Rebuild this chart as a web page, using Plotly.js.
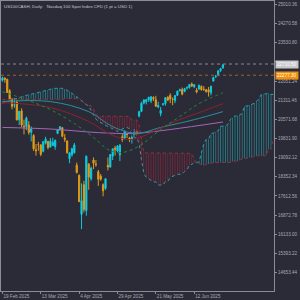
<!DOCTYPE html>
<html><head><meta charset="utf-8">
<script src="https://cdn.plot.ly/plotly-3.0.1.min.js"></script>
<style>html,body{margin:0;padding:0;background:#2b2b37;}#chart{width:300px;height:300px;}</style>
</head><body><div id="chart"></div>
<script>
const dates = ["2025-02-19","2025-02-20","2025-02-21","2025-02-24","2025-02-25","2025-02-26","2025-02-27","2025-02-28","2025-03-03","2025-03-04","2025-03-05","2025-03-06","2025-03-07","2025-03-10","2025-03-11","2025-03-12","2025-03-13","2025-03-14","2025-03-17","2025-03-18","2025-03-19","2025-03-20","2025-03-21","2025-03-24","2025-03-25","2025-03-26","2025-03-27","2025-03-28","2025-03-31","2025-04-01","2025-04-02","2025-04-03","2025-04-04","2025-04-07","2025-04-08","2025-04-09","2025-04-10","2025-04-11","2025-04-14","2025-04-15","2025-04-16","2025-04-17","2025-04-21","2025-04-22","2025-04-23","2025-04-24","2025-04-25","2025-04-28","2025-04-29","2025-04-30","2025-05-01","2025-05-02","2025-05-05","2025-05-06","2025-05-07","2025-05-08","2025-05-09","2025-05-12","2025-05-13","2025-05-14","2025-05-15","2025-05-16","2025-05-19","2025-05-20","2025-05-21","2025-05-22","2025-05-23","2025-05-26","2025-05-27","2025-05-28","2025-05-29","2025-05-30","2025-06-02","2025-06-03","2025-06-04","2025-06-05","2025-06-06","2025-06-09","2025-06-10","2025-06-11","2025-06-12","2025-06-13","2025-06-16","2025-06-17","2025-06-18","2025-06-19","2025-06-20","2025-06-23","2025-06-24","2025-06-25","2025-06-26","2025-06-27","2025-06-30"];
const open = [22080,22170,22120,21680,21330,21120,21240,20560,20900,20300,20300,20350,20070,19950,19400,19600,19580,19340,19650,19720,19500,19560,19520,20030,20180,20250,19850,19740,19050,19200,19280,18800,18400,16900,18050,17050,18850,18280,19000,18850,18550,18380,18050,17900,18800,18730,19150,19460,19350,19200,19900,19850,20000,19850,19820,19970,20100,20700,20880,21200,21250,21330,21280,21420,21330,21050,20800,21150,21180,21420,21500,21350,21300,21500,21670,21730,21650,21790,21800,21940,21830,21700,21740,21840,21730,21710,21720,21600,22050,22230,22280,22460,22560];
const high = [22222,22190,22140,21740,21400,21400,21320,20900,21000,20560,20680,20500,20300,20000,19620,19700,19620,19740,19900,19740,19850,19860,19800,20200,20300,20280,20000,19760,19300,19480,19660,18900,18450,18100,18200,19180,18880,18750,19100,19000,18620,18460,18100,18300,19100,19230,19450,19550,19570,19620,20000,20150,20050,19900,19950,20200,20150,20900,21250,21350,21360,21440,21460,21460,21480,21250,21050,21200,21430,21480,21580,21420,21510,21680,21760,21800,21790,21850,21940,22000,21930,21780,21920,21890,21860,21750,21820,21870,22220,22290,22470,22560,22700];
const low = [22030,21990,21590,21340,20960,21020,20530,20350,20270,19990,20160,19980,19720,19350,19170,19360,19150,19300,19600,19410,19480,19540,19400,20000,20130,19880,19700,19250,18880,19130,19250,18480,17370,16330,16980,16850,17850,18200,18650,18740,18000,18200,17600,17850,18600,18700,19000,19180,19300,18960,19700,19800,19850,19700,19640,19900,19950,20650,20850,21150,21150,21250,21200,21280,21050,21000,20690,21100,21100,21280,21200,21120,21200,21470,21660,21500,21620,21720,21760,21820,21780,21580,21720,21680,21680,21600,21450,21500,22030,22170,22240,22400,22530];
const close = [22175,22117,21614,21352,21075,21132,20551,20884,20352,20288,20628,20071,20201,19431,19361,19592,19225,19704,19805,19483,19737,19677,19754,20180,20288,19917,19799,19282,19278,19436,19582,18521,17398,17430,17090,19145,18343,18690,18877,18825,18257,18258,17808,18277,18731,19213,19433,19420,19546,19571,19794,20103,19986,19792,19867,20064,20062,20868,21197,21319,21336,21427,21447,21367,21080,21112,20916,21170,21414,21318,21363,21340,21492,21663,21713,21547,21762,21797,21920,21862,21913,21631,21885,21720,21719,21650,21626,21853,22190,22237,22447,22534,22679];

// Ichimoku cloud spans (index 0..113, projected 26 bars ahead)
const spanA = [21200,21230,21260,21300,21330,21360,21400,21420,21450,21480,21500,21520,21540,21560,21580,21600,21630,21660,21690,21720,21740,21760,21770,21780,21780,21770,21740,21700,21640,21580,21530,21450,21370,21286,21200,21150,21085,20900,20750,20580,20500,20440,20380,20330,20290,20256,20200,20150,20105,20150,20200,20243,20260,20210,19950,19865,19865,19645,19010,18485,18335,18275,18205,18155,18155,18035,18035,18035,18165,18165,18333,18365,18420,18445,18450,18463,18553,18620,18808,18833,18898,18923,18923,19273,19618,19798,19803,20030,20040,20105,20128,20303,20313,20313,20375,20563,20638,20703,20703,20753,20793,21085,21085,21115,21160,21190,21275,21355,21538,21548,21568,21568,21535,21535];
const spanB = [21335,21335,21335,21335,21335,21335,21335,21335,21335,21335,21335,21335,21335,21335,21335,21335,21335,21335,21335,21335,21335,21335,21335,21335,21335,21335,21380,21380,21380,21380,21380,21376,21376,21286,21246,21106,21106,21101,20971,20786,20696,20696,20686,20686,20686,20686,20686,20686,20686,20686,20686,20686,20686,20686,20551,20551,20551,20351,19796,19276,19276,19276,19276,19276,19276,19276,19276,19276,19276,19276,19276,19276,19276,19276,19276,19276,19276,19276,19260,19235,19035,18865,18865,18825,18790,18840,18845,18885,18895,18895,18905,18905,18905,18905,18905,18905,18955,18955,18955,19005,19045,19065,19065,19090,19135,19165,19165,19165,19165,19165,19165,19425,19425,19800];

// moving averages (bar index, value)
const maGreenX = [0,10,20,30,38,44,48,52,58,66,74,82,92];
const maGreen  = [21640,21330,20950,20410,19870,19410,19290,19330,19600,20180,20680,21180,21600];
const maRedX = [0,20,36,46,54,62,72,82,92];
const maRed  = [21220,21030,20490,19950,19790,20060,20490,20830,21180];
const maTealX = [0,20,36,46,56,66,80,92];
const maTeal  = [21260,21260,20870,20290,20030,20260,20560,20870];
const maPurpleX = [0,20,40,55,70,92];
const maPurple  = [20260,20200,20060,20030,20180,20470];

const levels = [22710.50, 22277.30];
const levelLabels = ["22710.50", "22277.30"];

const priceTicks = [25010.36,24270.58,23530.80,22791.02,22051.24,21311.46,20571.68,19831.90,19092.12,18352.34,17612.56,16872.78,16133.00,15393.22,14653.44];
const hiddenTick = 22791.02; // covered by the price label in the original
const dateTickIdx = [0,16,32,48,64,80];
const dateTickText = ["19 Feb 2025","13 Mar 2025","4 Apr 2025","29 Apr 2025","21 May 2025","12 Jun 2025"];

const idx = dates.map((d,k)=>k);
const cloudX = spanA.map((v,k)=>k);
const traces = [];

let start = 0;
const up = k => spanA[k] >= spanB[k];
for (let k = 1; k <= spanA.length; k++) {
  if (k === spanA.length || up(k) !== up(start)) {
    const e = Math.min(k, spanA.length-1);
    const xs = cloudX.slice(start, e+1);
    const bull = up(start);
    const lower = (bull ? spanB : spanA).slice(start, e+1);
    const upper = (bull ? spanA : spanB).slice(start, e+1);
    const col = bull ? 'rgba(35,150,165,0.85)' : 'rgba(140,35,55,0.9)';
    traces.push({type:'scatter', mode:'lines', x:xs, y:lower, line:{width:0}, hoverinfo:'skip', showlegend:false});
    traces.push({type:'scatter', mode:'lines', x:xs, y:upper, line:{width:0}, fill:'tonexty', fillcolor:'rgba(0,0,0,0)',
      fillpattern:{shape:'|', fgcolor:col, bgcolor:'rgba(0,0,0,0)', size:2.4, solidity:0.3}, hoverinfo:'skip', showlegend:false});
    start = k;
  }
}
traces.push({type:'scatter', mode:'lines', x:cloudX, y:spanA, line:{color:'#2aa0aa', width:1, dash:'dot'}, hoverinfo:'skip', showlegend:false});
traces.push({type:'scatter', mode:'lines', x:cloudX, y:spanB, line:{color:'#93303e', width:1, dash:'dot'}, hoverinfo:'skip', showlegend:false});

traces.push({type:'scatter', mode:'lines', x:maPurpleX, y:maPurple, line:{color:'#a565b8', width:1, shape:'spline'}, hoverinfo:'skip', showlegend:false});
traces.push({type:'scatter', mode:'lines', x:maTealX, y:maTeal, line:{color:'#2a8ea0', width:1, shape:'spline'}, hoverinfo:'skip', showlegend:false});
traces.push({type:'scatter', mode:'lines', x:maRedX, y:maRed, line:{color:'#8a2232', width:1, shape:'spline'}, hoverinfo:'skip', showlegend:false});
traces.push({type:'scatter', mode:'lines', x:maGreenX, y:maGreen, line:{color:'#1f8a3a', width:1, dash:'dot', shape:'spline'}, hoverinfo:'skip', showlegend:false});

traces.push({type:'candlestick', x:idx, open:open, high:high, low:low, close:close,
  increasing:{line:{color:'#10c8dc', width:1}, fillcolor:'#00e8ff'},
  decreasing:{line:{color:'#e09a18', width:1}, fillcolor:'#f5a623'},
  whiskerwidth:0, hoverinfo:'skip', showlegend:false});

const axisCol = '#8c8c96';
const layout = {
  width:300, height:300,
  margin:{l:1, r:25.5, t:1, b:8.5},
  paper_bgcolor:'#2b2b37', plot_bgcolor:'#2b2b37',
  showlegend:false,
  xaxis:{range:[-0.6,113.3], showgrid:false, zeroline:false, showline:true, mirror:true, linecolor:axisCol, linewidth:1,
    tickmode:'array', tickvals:dateTickIdx, ticktext:dateTickText, ticks:'outside', ticklen:2, tickcolor:axisCol,
    ticklabelposition:'outside right',
    tickfont:{family:'Liberation Sans, Arial, sans-serif', size:4.6, color:'#a8a8b2'}, rangeslider:{visible:false}, fixedrange:true},
  yaxis:{side:'right', range:[13940,25145.4], showgrid:false, zeroline:false, showline:true, mirror:true, linecolor:axisCol, linewidth:1,
    tickmode:'array', tickvals:priceTicks, ticktext:priceTicks.map(v=> v===hiddenTick ? '' : v.toFixed(2)), ticks:'outside', ticklen:2, tickcolor:axisCol,
    tickfont:{family:'Liberation Sans, Arial, sans-serif', size:4.6, color:'#a8a8b2'}, fixedrange:true},
  shapes:[
    {type:'line', xref:'paper', x0:0, x1:1, yref:'y', y0:levels[0], y1:levels[0], line:{color:'#8a8a92', width:1, dash:'dot'}},
    {type:'line', xref:'paper', x0:0, x1:1, yref:'y', y0:levels[1], y1:levels[1], line:{color:'#a0602a', width:1, dash:'dot'}}
  ],
  annotations:[
    {xref:'paper', yref:'paper', x:0, y:1, xanchor:'left', yanchor:'top', xshift:1, yshift:-1, showarrow:false,
     text:'US100CASH, Daily:   Nasdaq 100 Spot Index CFD (1 pt = USD 1)', font:{family:'Liberation Sans, Arial, sans-serif', size:4.4, color:'#c4c4cc'}},
    {xref:'paper', x:1, xanchor:'left', xshift:1, yref:'y', y:levels[0], yanchor:'middle', showarrow:false, text:levelLabels[0],
     bgcolor:'#c8c8cc', borderpad:1, font:{family:'Liberation Sans, Arial, sans-serif', size:4.6, color:'#ffffff'}},
    {xref:'paper', x:1, xanchor:'left', xshift:1, yref:'y', y:levels[1], yanchor:'middle', showarrow:false, text:levelLabels[1],
     bgcolor:'#f0900a', borderpad:1, font:{family:'Liberation Sans, Arial, sans-serif', size:4.6, color:'#ffffff'}}
  ]
};
Plotly.newPlot('chart', traces, layout, {staticPlot:true, displayModeBar:false});
</script>
</body></html>
